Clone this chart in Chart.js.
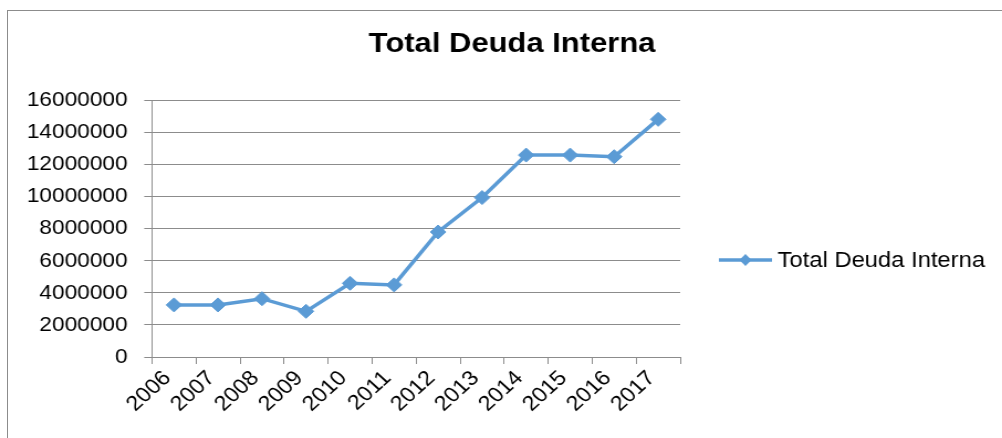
<!DOCTYPE html>
<html>
<head>
<meta charset="utf-8">
<script src="https://cdn.jsdelivr.net/npm/chart.js@4.4.0/dist/chart.umd.min.js"></script>
<style>
  html, body { margin: 0; padding: 0; background: #fff; overflow: hidden; }
  #wrap { position: relative; width: 1002px; height: 438px; }
  #frame { position: absolute; left: 7px; top: 10px; right: -2px; bottom: -2px; border: 1px solid #8c8c8c; }
  /* el original esta algo estirado en horizontal */
  #lienzo { position: absolute; left: 0; top: 0; width: 906px; height: 438px; transform: scaleX(1.106); transform-origin: 0 0; }
</style>
</head>
<body>
<div id="wrap">
  <div id="frame"></div>
  <div id="lienzo"><canvas id="chart" width="906" height="438"></canvas></div>
</div>
<script>
// datos
var years = ['2006', '2007', '2008', '2009', '2010', '2011', '2012', '2013', '2014', '2015', '2016', '2017'];
var deuda = [3250000, 3250000, 3640000, 2850000, 4600000, 4500000, 7800000, 9950000, 12600000, 12600000, 12500000, 14830000];
var yTicks = [0, 2000000, 4000000, 6000000, 8000000, 10000000, 12000000, 14000000, 16000000];
var seriesName = 'Total Deuda Interna';

var azul = '#5b9bd5';
var gris = '#8c8c8c';
var fuente = 'Liberation Sans, Arial, sans-serif';

// leyenda a la derecha (linea + rombo)
var leyenda = {
    id: 'leyenda',
    afterDraw: function (chart) {
        var ctx = chart.ctx;
        var ds = chart.data.datasets[0];
        var x0 = 650, x1 = 698, y = 260, xm = (x0 + x1) / 2;
        ctx.save();
        ctx.strokeStyle = ds.borderColor;
        ctx.lineWidth = 3.5;
        ctx.beginPath();
        ctx.moveTo(x0, y);
        ctx.lineTo(x1, y);
        ctx.stroke();
        ctx.fillStyle = ds.borderColor;
        ctx.beginPath();
        ctx.moveTo(xm, y - 6);
        ctx.lineTo(xm + 5.5, y);
        ctx.lineTo(xm, y + 6);
        ctx.lineTo(xm - 5.5, y);
        ctx.closePath();
        ctx.fill();
        ctx.fillStyle = '#000';
        ctx.font = '21.5px ' + fuente;
        ctx.textBaseline = 'middle';
        ctx.fillText(ds.label, 703, y + 1);
        ctx.restore();
    }
};

new Chart(document.getElementById('chart').getContext('2d'), {
    type: 'line',
    data: {
        labels: years,
        datasets: [{
            label: seriesName,
            data: deuda,
            borderColor: azul,
            backgroundColor: azul,
            borderWidth: 3.5,
            pointStyle: 'rectRot',
            pointRadius: 7,
            pointHoverRadius: 7,
            pointBorderWidth: 1,
            tension: 0
        }]
    },
    options: {
        responsive: false,
        animation: false,
        layout: { padding: { left: 20, right: 0, top: 0, bottom: 0 } },
        plugins: {
            legend: { display: false },
            tooltip: { enabled: false },
            title: {
                display: true,
                text: seriesName,
                color: '#000',
                font: { family: fuente, size: 28, weight: 'bold' },
                padding: { top: 27, bottom: 40 }
            }
        },
        scales: {
            x: {
                type: 'category',
                offset: true,
                grid: { offset: true, drawOnChartArea: false, drawTicks: true, tickLength: 7, color: gris },
                border: { color: gris, width: 1 },
                ticks: {
                    color: '#000',
                    font: { family: fuente, size: 21 },
                    minRotation: 45,
                    maxRotation: 45,
                    autoSkip: false,
                    padding: 2,
                    labelOffset: -6
                },
                afterFit: function (scale) { scale.height = 81; }
            },
            y: {
                min: 0,
                max: 16000000,
                afterBuildTicks: function (scale) {
                    scale.ticks = yTicks.map(function (v) { return { value: v }; });
                },
                grid: { color: gris, tickLength: 7 },
                border: { color: gris, width: 1 },
                ticks: {
                    color: '#000',
                    font: { family: fuente, size: 20.5 },
                    padding: 15,
                    callback: function (v) { return String(v); }
                },
                afterFit: function (scale) { scale.width = 117.4; }
            },
            // eje vacio para dejar sitio a la leyenda
            hueco: {
                position: 'right',
                display: true,
                grid: { display: false, drawTicks: false },
                border: { display: false },
                ticks: { display: false },
                afterFit: function (scale) { scale.width = 291; }
            }
        }
    },
    plugins: [leyenda]
});
</script>
</body>
</html>
